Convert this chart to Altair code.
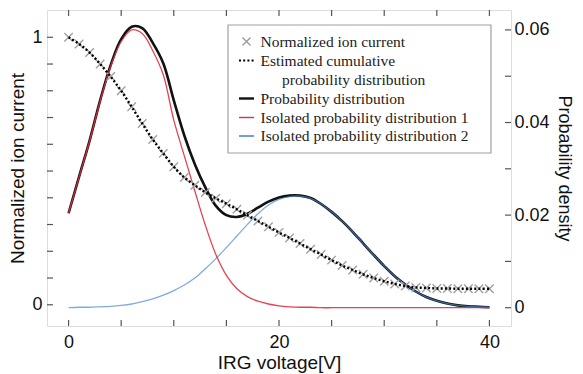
import altair as alt
import pandas as pd

# ---------------- data ----------------
voltage = list(range(0, 41))

ion_current = [1.000, 0.975, 0.943, 0.900, 0.853, 0.800, 0.740, 0.678, 0.618, 0.566,
               0.516, 0.476, 0.447, 0.420, 0.398, 0.378, 0.357, 0.335, 0.313, 0.292,
               0.270, 0.250, 0.229, 0.208, 0.188, 0.167, 0.147, 0.130, 0.114, 0.100,
               0.088, 0.078, 0.070, 0.065, 0.063, 0.061, 0.061, 0.060, 0.060, 0.060, 0.060]

prob_dist = [0.0204, 0.0283, 0.0361, 0.0448, 0.0524, 0.0580, 0.0607, 0.0604, 0.0572, 0.0528,
             0.0448, 0.0372, 0.0310, 0.0260, 0.0220, 0.0200, 0.0196, 0.0203, 0.0216, 0.0229,
             0.0238, 0.0242, 0.0242, 0.0237, 0.0224, 0.0207, 0.0187, 0.0164, 0.0139, 0.0114,
             0.0090, 0.0068, 0.0050, 0.0035, 0.0023, 0.0015, 0.0009, 0.0005, 0.0003, 0.0002, 0.0001]

iso_dist_1 = [0.0204, 0.0282, 0.0360, 0.0446, 0.0521, 0.0575, 0.0600, 0.0592, 0.0555, 0.0503,
              0.0405, 0.0328, 0.0252, 0.0178, 0.0115, 0.0070, 0.0041, 0.0024, 0.0014, 0.0008,
              0.0004, 0.0002, 0.0001, 0.0001, 0.0000, 0.0000, 0.0000, 0.0000, 0.0000, 0.0000,
              0.0000, 0.0000, 0.0000, 0.0000, 0.0000, 0.0000, 0.0000, 0.0000, 0.0000, 0.0000, 0.0000]

iso_dist_2 = [0.0000, 0.0001, 0.0001, 0.0002, 0.0003, 0.0005, 0.0008, 0.0013, 0.0019, 0.0027,
              0.0037, 0.0049, 0.0064, 0.0084, 0.0106, 0.0130, 0.0155, 0.0180, 0.0203, 0.0222,
              0.0234, 0.0240, 0.0241, 0.0236, 0.0224, 0.0207, 0.0187, 0.0164, 0.0139, 0.0114,
              0.0090, 0.0068, 0.0050, 0.0035, 0.0023, 0.0015, 0.0009, 0.0005, 0.0003, 0.0002, 0.0001]

x_tick_values = [0, 5, 10, 15, 20, 25, 30, 35, 40]
x_label_values = [0, 20, 40]
left_tick_values = [0.0, 0.1, 0.2, 0.3, 0.4, 0.5, 0.6, 0.7, 0.8, 0.9, 1.0]
left_label_values = [0, 1]
right_tick_values = [0.0, 0.01, 0.02, 0.03, 0.04, 0.05, 0.06]
right_label_values = [0, 0.02, 0.04, 0.06]

legend_labels = ["Normalized ion current", "Estimated cumulative", "probability distribution",
                 "Probability distribution", "Isolated probability distribution 1",
                 "Isolated probability distribution 2"]

# ---------------- layout ----------------
W, H = 464, 316
FRAME = "#555555"
TICK = 6
SANS = "Liberation Sans"
SERIF = "Liberation Serif"
INTERP = "catmull-rom"

df = pd.DataFrame({"V": voltage, "ion": ion_current, "pd": prob_dist,
                   "p1": iso_dist_1, "p2": iso_dist_2})
xt = pd.DataFrame({"V": x_tick_values})
lt = pd.DataFrame({"t": left_tick_values})
rt = pd.DataFrame({"t": right_tick_values})
one = pd.DataFrame({"a": [0]})

xscale = alt.Scale(domain=[-2.05, 42.05], nice=False, zero=False)
yL = alt.Scale(domain=[-0.0793, 1.102], nice=False, zero=False)
yR = alt.Scale(domain=[-0.00395, 0.0643], nice=False, zero=False)

x_axis = alt.Axis(values=x_label_values, title="IRG voltage[V]", ticks=False, domain=False,
                  grid=False, labelFontSize=18, titleFontSize=19, labelPadding=7,
                  titlePadding=2, labelFont=SANS, titleFont=SANS, labelColor="#111",
                  titleColor="#111", titleFontWeight="normal")
yL_axis = alt.Axis(orient="left", values=left_label_values, format="d",
                   title="Normalized ion current", ticks=False, domain=False, grid=False,
                   labelFontSize=18, titleFontSize=19, labelPadding=5, titlePadding=4,
                   labelFont=SANS, titleFont=SANS, labelColor="#111", titleColor="#111",
                   titleFontWeight="normal")
yR_axis = alt.Axis(orient="right", values=right_label_values,
                   labelExpr="datum.value == 0 ? '0' : format(datum.value, '.2f')",
                   title="Probability density", ticks=False, domain=False, grid=False,
                   labelFontSize=18, titleFontSize=18, labelPadding=3, titlePadding=5,
                   labelFont=SANS, titleFont=SANS, labelColor="#111", titleColor="#111",
                   titleFontWeight="normal")

X = alt.X("V:Q", scale=xscale, axis=x_axis)

# ---------- right-axis layer: probability densities ----------
black = alt.Chart(df).mark_line(color="#111111", strokeWidth=2.6, interpolate=INTERP).encode(
    x=X, y=alt.Y("pd:Q", scale=yR, axis=yR_axis))
blue = alt.Chart(df).mark_line(color="#4a88d2", strokeWidth=1.3, opacity=0.7,
                               interpolate=INTERP).encode(
    x=X, y=alt.Y("p2:Q", scale=yR, axis=yR_axis))
red = alt.Chart(df).mark_line(color="#e0303e", strokeWidth=1.3, opacity=0.9,
                              interpolate=INTERP).encode(
    x=X, y=alt.Y("p1:Q", scale=yR, axis=yR_axis))
rticks = alt.Chart(rt).mark_rule(color=FRAME, strokeWidth=1.2).encode(
    y=alt.Y("t:Q", scale=yR, axis=yR_axis), x=alt.value(W), x2=alt.value(W - TICK))
bticks = alt.Chart(xt).mark_rule(color=FRAME, strokeWidth=1.2).encode(
    x=X, y=alt.value(H), y2=alt.value(H - TICK))
tticks = alt.Chart(xt).mark_rule(color=FRAME, strokeWidth=1.2).encode(
    x=X, y=alt.value(0), y2=alt.value(TICK))
right_layer = alt.layer(black, blue, red, rticks, bticks, tticks)

# ---------- left-axis layer: ion current ----------
xpath = "M-1,-1L1,1M1,-1L-1,1"
markers = alt.Chart(df).mark_point(shape=xpath, size=72, color="#a0a0a0", strokeWidth=1.4,
                                   filled=False, opacity=1).encode(
    x=X, y=alt.Y("ion:Q", scale=yL, axis=yL_axis))
dotted = alt.Chart(df).mark_line(color="#000000", strokeWidth=2.4, strokeDash=[2, 2.2],
                                 interpolate=INTERP).encode(
    x=X, y=alt.Y("ion:Q", scale=yL, axis=yL_axis))
lticks = alt.Chart(lt).mark_rule(color=FRAME, strokeWidth=1.2).encode(
    y=alt.Y("t:Q", scale=yL, axis=yL_axis), x=alt.value(0), x2=alt.value(TICK))
left_layer = alt.layer(markers, dotted, lticks)

# ---------- hand-drawn legend ----------
LX0, LX1, LY0, LY1 = 181, 444, 15, 143
box = alt.Chart(one).mark_rect(fill="white", stroke="#a0a0a0", strokeWidth=1.2).encode(
    x=alt.value(LX0), x2=alt.value(LX1), y=alt.value(LY0), y2=alt.value(LY1))
row_y = [31.5, 50.5, 70, 88.5, 107.5, 126]
text_x = [213.5, 213.5, 235, 213.5, 213.5, 213.5]
legend_layers = [box]
for lab, ty, tx in zip(legend_labels, row_y, text_x):
    legend_layers.append(
        alt.Chart(one).mark_text(text=lab, align="left", baseline="middle", font=SERIF,
                                 fontSize=15.5, color="#222222").encode(
            x=alt.value(tx), y=alt.value(ty)))
SX0, SX1 = 192, 207
legend_layers.append(alt.Chart(one).mark_point(shape=xpath, size=64, color="#9a9a9a",
                                               strokeWidth=1.4, filled=False, opacity=1).encode(
    x=alt.value((SX0 + SX1) / 2), y=alt.value(row_y[0])))
legend_layers.append(alt.Chart(one).mark_rule(color="#000", strokeWidth=2.2,
                                              strokeDash=[2, 2.2]).encode(
    x=alt.value(SX0), x2=alt.value(SX1), y=alt.value(row_y[1])))
for col, ry, sw in [("#111111", row_y[3], 2.4), ("#e0303e", row_y[4], 1.4),
                    ("#4a88d2", row_y[5], 1.6)]:
    legend_layers.append(alt.Chart(one).mark_rule(color=col, strokeWidth=sw).encode(
        x=alt.value(SX0), x2=alt.value(SX1), y=alt.value(ry)))

chart = alt.layer(right_layer, left_layer, *legend_layers).resolve_scale(
    y="independent"
).properties(
    width=W, height=H,
    autosize=alt.AutoSizeParams(type="none"),
    padding={"left": 39, "top": 2, "right": 64, "bottom": 48},
).configure_view(stroke=FRAME, strokeWidth=1.5).configure(background="white")

chart.save("out.html", embed_options={"renderer": "svg", "actions": False})
